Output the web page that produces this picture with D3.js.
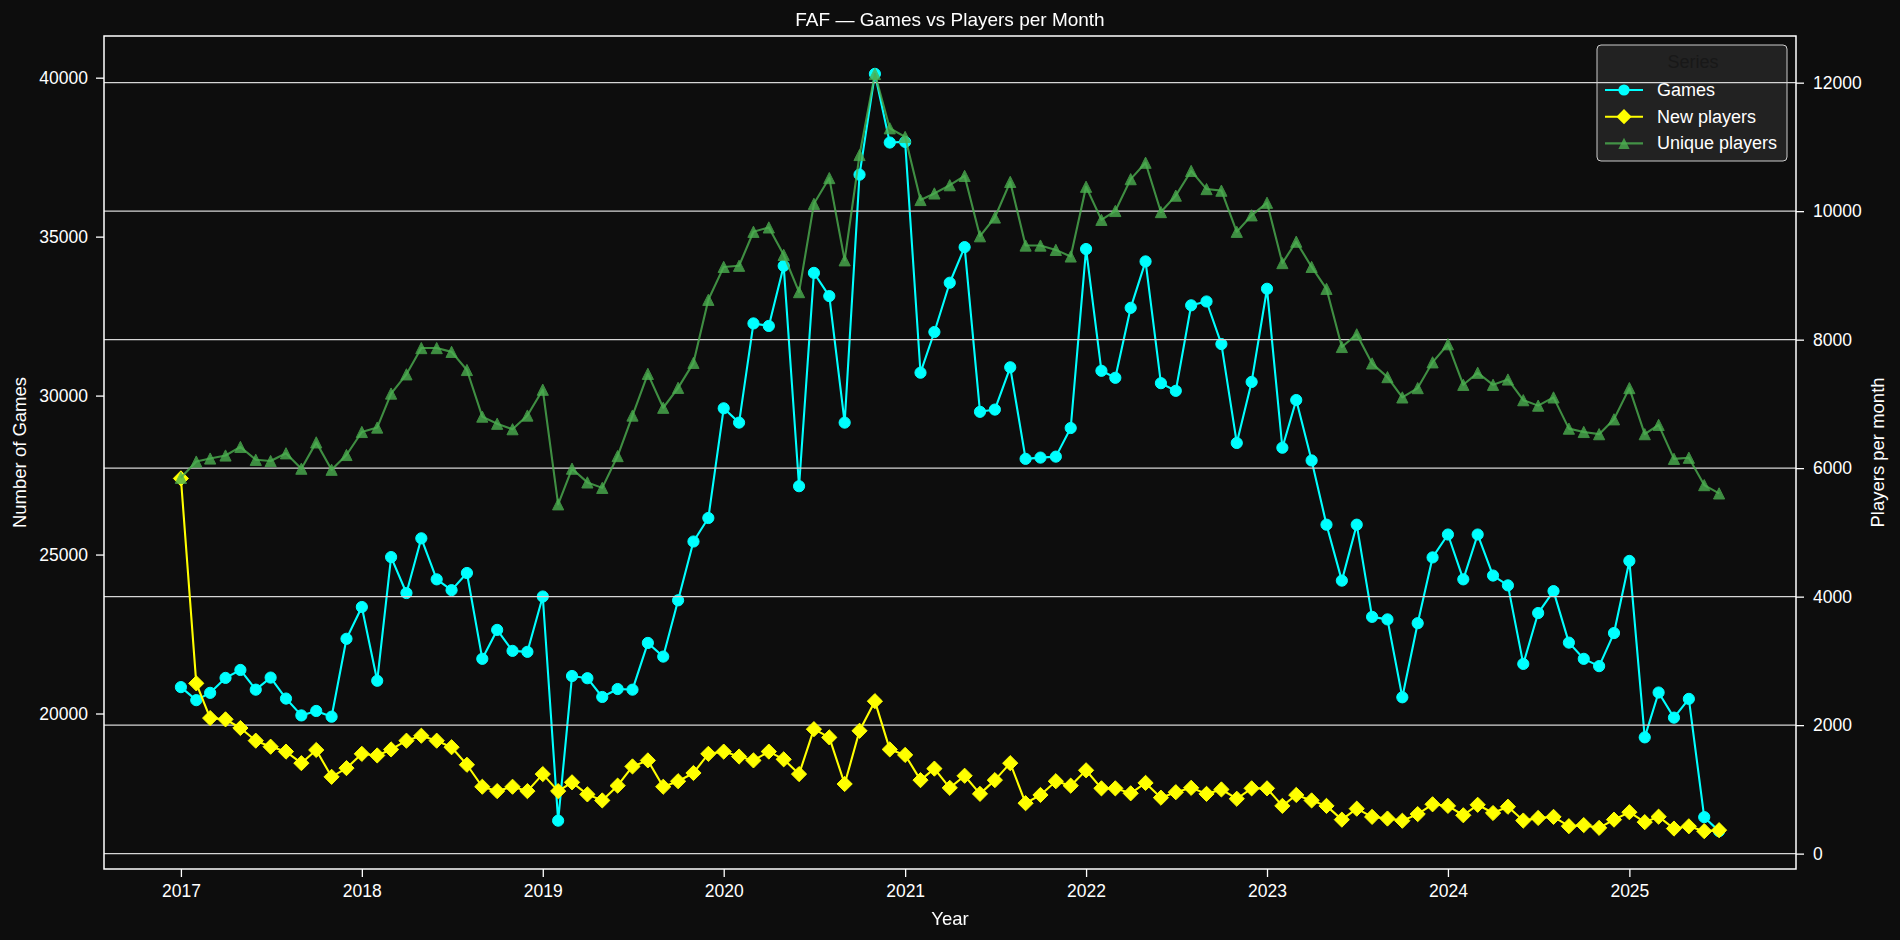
<!DOCTYPE html>
<html>
<head>
<meta charset="utf-8">
<script src="https://cdn.jsdelivr.net/npm/d3@7"></script>
<style>
  body { margin: 0; background: #0d0d0d; }
  svg { display: block; font-family: "Liberation Sans", Arial, sans-serif; }
</style>
</head>
<body>
<div id="chart"></div>
<script>
// months Jan 2017 .. Jul 2025 (103 points)
const months = d3.utcMonth.range(new Date(Date.UTC(2017, 0, 1)), new Date(Date.UTC(2025, 7, 1)));

const games = [
  20830, 20420, 20650, 21120, 21370, 20750, 21130, 20470, 19940, 20080, 19900, 22350,
  23350, 21030, 24920, 23790, 25510, 24220, 23880, 24420, 21720, 22630, 21970, 21940,
  23680, 16630, 21180, 21110, 20520, 20770, 20750, 22220, 21790, 23560, 25410, 26150,
  29600, 29150, 32270, 32190, 34080, 27150, 33860, 33130, 29150, 36950, 40120, 37960,
  37980, 30720, 32000, 33550, 34670, 29490, 29560, 30890, 28010, 28050, 28080, 28980,
  34610, 30780, 30560, 32760, 34220, 30390, 30150, 32840, 32960, 31620, 28510, 30430,
  33360, 28360, 29860, 27960, 25940, 24180, 25940, 23040, 22960, 20510, 22840, 24910,
  25630, 24220, 25630, 24340, 24030, 21560, 23160, 23850, 22230, 21720, 21490, 22530,
  24800, 19250, 20660, 19870, 20460, 16740, 16300
];

const newPlayers = [
  5840, 2650, 2110, 2090, 1955, 1758, 1664, 1588, 1408, 1613, 1195, 1331,
  1553, 1528, 1622, 1758, 1835, 1758, 1656, 1383, 1041, 973, 1041, 973,
  1238, 973, 1110, 922, 828, 1058, 1357, 1451, 1041, 1127, 1255, 1553,
  1588, 1511, 1451, 1588, 1468, 1238, 1937, 1809, 1084, 1912, 2373, 1622,
  1536, 1144, 1323, 1024, 1212, 930, 1144, 1408, 785, 913, 1127, 1058,
  1297, 1016, 1016, 939, 1101, 871, 956, 1024, 930, 999, 854, 1016,
  1016, 743, 913, 828, 743, 529, 700, 572, 546, 512, 615, 768,
  743, 597, 760, 632, 730, 515, 555, 572, 427, 444, 401, 529,
  645, 490, 575, 390, 425, 350, 365
];

const uniquePlayers = [
  5850, 6103, 6150, 6197, 6330, 6130, 6111, 6231, 5992, 6401, 5975, 6205,
  6563, 6632, 7161, 7460, 7869, 7869, 7810, 7528, 6802, 6691, 6606, 6819,
  7221, 5437, 5992, 5778, 5693, 6188, 6819, 7468, 6940, 7250, 7639, 8620,
  9132, 9150, 9679, 9747, 9320, 8740, 10114, 10515, 9235, 10874, 12137, 11290,
  11155, 10174, 10276, 10404, 10549, 9610, 9901, 10455, 9465, 9465, 9397, 9295,
  10380, 9865, 10003, 10498, 10754, 9986, 10242, 10626, 10344, 10319, 9679, 9935,
  10131, 9192, 9525, 9132, 8791, 7886, 8083, 7630, 7417, 7101, 7246, 7647,
  7929, 7297, 7485, 7297, 7380, 7058, 6973, 7101, 6615, 6563, 6529, 6760,
  7246, 6529, 6674, 6145, 6162, 5736, 5607
];

const gamesTicks = [20000, 25000, 30000, 35000, 40000];
const playerTicks = [0, 2000, 4000, 6000, 8000, 10000, 12000];
const yearTicks = [2017, 2018, 2019, 2020, 2021, 2022, 2023, 2024, 2025];
const seriesNames = ["Games", "New players", "Unique players"];

const W = 1900, H = 940;
const pLeft = 104, pRight = 1796, pTop = 36, pBottom = 869;
const bg = "#0d0d0d";

const svg = d3.select("#chart").append("svg")
  .attr("width", W)
  .attr("height", H);

svg.append("rect").attr("width", W).attr("height", H).attr("fill", bg);

//5% margins like matplotlib autoscale
function padded(lo, hi) {
  const m = (hi - lo) * 0.05;
  return [lo - m, hi + m];
}

const t0 = +months[0], t1 = +months[months.length - 1];
const xd = padded(t0, t1);
const x = d3.scaleUtc()
  .domain([new Date(xd[0]), new Date(xd[1])])
  .range([pLeft, pRight]);

const yGames = d3.scaleLinear()
  .domain(padded(d3.min(games), d3.max(games)))
  .range([pBottom, pTop]);

const allPlayers = newPlayers.concat(uniquePlayers);
const yPlayers = d3.scaleLinear()
  .domain(padded(d3.min(allPlayers), d3.max(allPlayers)))
  .range([pBottom, pTop]);

//marker shapes
const circlePath = "M5.6,0A5.6,5.6 0 1,1 -5.6,0A5.6,5.6 0 1,1 5.6,0Z";
const diamondPath = "M0,-7.6L7.6,0L0,7.6L-7.6,0Z";
const trianglePath = "M0,-5.6L5.6,5.6L-5.6,5.6Z";

const series = [
  {name: seriesNames[0], values: games, y: yGames, color: "#00ffff", opacity: 1, marker: circlePath},
  {name: seriesNames[1], values: newPlayers, y: yPlayers, color: "#ffff00", opacity: 1, marker: diamondPath},
  {name: seriesNames[2], values: uniquePlayers, y: yPlayers, color: "#4caf50", opacity: 0.8, marker: trianglePath}
];

function drawSeries(s) {
  const pts = s.values.map((v, i) => [x(months[i]), s.y(v)]);
  svg.append("path")
    .datum(pts)
    .attr("d", d3.line())
    .attr("fill", "none")
    .attr("stroke", s.color)
    .attr("stroke-width", 2.1)
    .attr("stroke-linejoin", "round")
    .attr("opacity", s.opacity);
  svg.append("g")
    .attr("opacity", s.opacity)
    .selectAll("path")
    .data(pts)
    .join("path")
    .attr("transform", d => `translate(${d[0]},${d[1]})`)
    .attr("d", s.marker)
    .attr("fill", s.color)
    .attr("stroke", s.color)
    .attr("stroke-width", 1);
}

//games on the first axes
drawSeries(series[0]);

//legend (belongs to the first axes, so the twin grid goes over it)
const lg = svg.append("g").attr("transform", "translate(1597,45)");
lg.append("rect")
  .attr("width", 190).attr("height", 116)
  .attr("rx", 4)
  .attr("fill", "#222222")
  .attr("stroke", "#cccccc")
  .attr("stroke-width", 1);
lg.append("text")
  .attr("x", 96).attr("y", 17)
  .attr("text-anchor", "middle")
  .attr("dominant-baseline", "central")
  .attr("font-size", 18)
  .attr("fill", "#181818")
  .text("Series");
series.forEach((s, i) => {
  const cy = 45 + i * 26.7;
  lg.append("line")
    .attr("x1", 8).attr("x2", 46)
    .attr("y1", cy).attr("y2", cy)
    .attr("stroke", s.color).attr("stroke-width", 2.1)
    .attr("opacity", s.opacity);
  lg.append("path")
    .attr("transform", `translate(27,${cy})`)
    .attr("d", s.marker)
    .attr("fill", s.color)
    .attr("opacity", s.opacity);
  lg.append("text")
    .attr("x", 60).attr("y", cy)
    .attr("dominant-baseline", "central")
    .attr("font-size", 18)
    .attr("fill", "#ffffff")
    .text(s.name);
});

//grid from the twin (players) axis
svg.append("g")
  .selectAll("line")
  .data(playerTicks)
  .join("line")
  .attr("x1", pLeft).attr("x2", pRight)
  .attr("y1", d => yPlayers(d)).attr("y2", d => yPlayers(d))
  .attr("stroke", "#d6d6d6")
  .attr("stroke-width", 1.3);

drawSeries(series[1]);
drawSeries(series[2]);

//axes
function styleAxis(g) {
  g.select(".domain").remove();
  g.selectAll(".tick line").attr("stroke", "#ffffff").attr("stroke-width", 1.3);
  g.selectAll(".tick text").attr("fill", "#ffffff").attr("font-size", 17.5);
}

svg.append("g")
  .attr("transform", `translate(${pLeft},0)`)
  .call(d3.axisLeft(yGames).tickValues(gamesTicks).tickSize(8).tickPadding(8).tickFormat(d3.format("d")))
  .call(styleAxis);

svg.append("g")
  .attr("transform", `translate(${pRight},0)`)
  .call(d3.axisRight(yPlayers).tickValues(playerTicks).tickSize(8).tickPadding(9).tickFormat(d3.format("d")))
  .call(styleAxis);

svg.append("g")
  .attr("transform", `translate(0,${pBottom})`)
  .call(d3.axisBottom(x)
    .tickValues(yearTicks.map(yr => new Date(Date.UTC(yr, 0, 1))))
    .tickSize(8).tickPadding(8)
    .tickFormat(d3.utcFormat("%Y")))
  .call(styleAxis);

//frame
svg.append("rect")
  .attr("x", pLeft).attr("y", pTop)
  .attr("width", pRight - pLeft).attr("height", pBottom - pTop)
  .attr("fill", "none")
  .attr("stroke", "#ffffff")
  .attr("stroke-width", 1.5);

//title and labels
svg.append("text")
  .attr("x", (pLeft + pRight) / 2).attr("y", 26)
  .attr("text-anchor", "middle")
  .attr("font-size", 19)
  .attr("fill", "#ffffff")
  .text("FAF — Games vs Players per Month");

svg.append("text")
  .attr("x", (pLeft + pRight) / 2).attr("y", 925)
  .attr("text-anchor", "middle")
  .attr("font-size", 18.5)
  .attr("fill", "#ffffff")
  .text("Year");

svg.append("text")
  .attr("transform", `translate(19,${(pTop + pBottom) / 2}) rotate(-90)`)
  .attr("text-anchor", "middle")
  .attr("dominant-baseline", "central")
  .attr("font-size", 18.5)
  .attr("fill", "#ffffff")
  .text("Number of Games");

svg.append("text")
  .attr("transform", `translate(1877,${(pTop + pBottom) / 2}) rotate(-90)`)
  .attr("text-anchor", "middle")
  .attr("dominant-baseline", "central")
  .attr("font-size", 18.5)
  .attr("fill", "#ffffff")
  .text("Players per month");
</script>
</body>
</html>
